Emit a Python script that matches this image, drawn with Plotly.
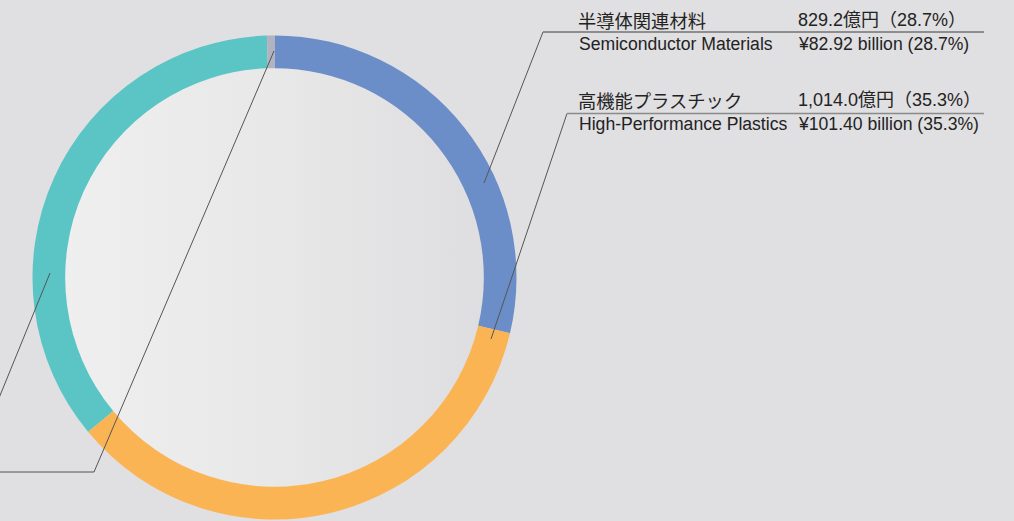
import numpy as np
import plotly.graph_objects as go

# ---- data ----
segments = ["半導体関連材料", "高機能プラスチック", "その他", "調整"]
shares = [28.7, 35.3, 35.5, 0.5]
colors = ["#6b8ec9", "#fbb454", "#5bc5c6", "#b3b2bf"]

jp_labels = ["半導体関連材料", "高機能プラスチック"]
jp_values = ["829.2億円（28.7%）", "1,014.0億円（35.3%）"]
en_labels = ["Semiconductor Materials", "High-Performance Plastics"]
en_values = ["¥82.92 billion (28.7%)", "¥101.40 billion (35.3%)"]

W, H = 1014, 521
CX, CY, R = 274.5, 277.5, 242.0
HOLE = 0.865

fig = go.Figure()

# gradient-filled donut hole (background decoration)
t = np.linspace(0, 2 * np.pi, 241)
rh = R * HOLE + 2
fig.add_trace(go.Scatter(
    x=CX + rh * np.cos(t), y=CY + rh * np.sin(t),
    mode="lines", line=dict(width=0), fill="toself",
    fillgradient=dict(type="horizontal",
                      colorscale=[[0, "#efefef"], [0.5, "#e8e8e8"], [1, "#dedde0"]]),
    hoverinfo="skip", showlegend=False,
))

fig.add_trace(go.Pie(
    labels=segments, values=shares, sort=False, direction="clockwise",
    rotation=0, hole=HOLE,
    marker=dict(colors=colors, line=dict(width=0)),
    textinfo="none", hoverinfo="label+percent", showlegend=False,
    domain=dict(x=[(CX - R) / W, (CX + R) / W],
                y=[1 - (CY + R) / H, 1 - (CY - R) / H]),
))

line_grey = "#8a8a8a"
lead = "#555555"
shapes = [
    # block 1
    dict(type="path", path="M 484 183 L 543 32 L 984 32", line=dict(color=lead, width=1)),
    dict(type="line", x0=543, y0=32, x1=984, y1=32, line=dict(color=line_grey, width=1.3)),
    # block 2
    dict(type="path", path="M 491 339 L 567 113.5 L 984 113.5", line=dict(color=lead, width=1)),
    dict(type="line", x0=567, y0=113.5, x1=984, y1=113.5, line=dict(color=line_grey, width=1.3)),
    # leaders to off-canvas labels
    dict(type="path", path="M 50 273 L -12 425", line=dict(color=lead, width=1)),
    dict(type="path", path="M 274 51 L 94 472 L -20 472", line=dict(color=lead, width=1)),
]
for s in shapes:
    s.update(xref="x", yref="y", layer="above")

txt = "#232323"
jp_font = dict(family="Liberation Sans, Noto Sans CJK JP", size=18, color=txt)
en_font = dict(family="Liberation Sans, Arial, sans-serif", size=17.6, color=txt)
ann = []
label_y = [(20, 43.5), (99.5, 123.5)]
for i in range(2):
    yj, ye = label_y[i]
    ann.append(dict(x=576, y=yj, text=jp_labels[i], font=dict(family="Noto Sans CJK JP", size=18.3, color=txt)))
    ann.append(dict(x=796, y=yj, text=jp_values[i], font=jp_font))
    ann.append(dict(x=577, y=ye, text=en_labels[i], font=en_font))
    ann.append(dict(x=796, y=ye, text=en_values[i], font=en_font))
for a in ann:
    a.update(xref="x", yref="y", xanchor="left", yanchor="middle", showarrow=False)

fig.update_layout(
    width=W, height=H, margin=dict(l=0, r=0, t=0, b=0),
    paper_bgcolor="#e0dfe1", plot_bgcolor="rgba(0,0,0,0)",
    xaxis=dict(range=[0, W], visible=False, fixedrange=True),
    yaxis=dict(range=[H, 0], visible=False, fixedrange=True),
    shapes=shapes, annotations=ann,
)

fig.write_html("out.html", config={"displayModeBar": False},
               post_script="document.body.style.margin='0';document.body.style.overflow='hidden';")
